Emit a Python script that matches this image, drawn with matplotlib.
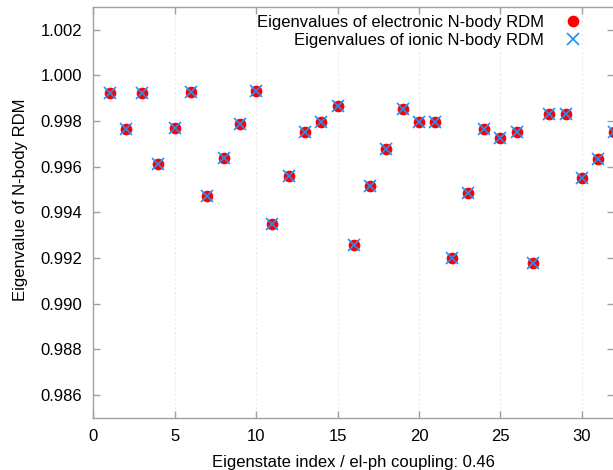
import numpy as np
import matplotlib
matplotlib.use("Agg")
import matplotlib.pyplot as plt

plt.rcParams['font.family'] = ['Liberation Sans', 'DejaVu Sans']

# eigenstate index
indices = np.arange(1, 33)

# eigenvalues
electronic = [0.99924, 0.99765, 0.99924, 0.99613, 0.99771, 0.99928, 0.99470, 0.99640,
              0.99788, 0.99931, 0.99349, 0.99558, 0.99750, 0.99796, 0.99865, 0.99258,
              0.99516, 0.99679, 0.99853, 0.99794, 0.99794, 0.99200, 0.99483, 0.99765,
              0.99725, 0.99750, 0.99177, 0.99831, 0.99831, 0.99552, 0.99632, 0.99750]
ionic = list(electronic)

xticks = [0, 5, 10, 15, 20, 25, 30]
yticks = [0.986, 0.988, 0.990, 0.992, 0.994, 0.996, 0.998, 1.000, 1.002]

fig = plt.figure(figsize=(6.13, 4.70), dpi=100)
ax = fig.add_axes([0.1522, 0.1106, 0.850, 0.875])

ax.plot(indices, electronic, 'o', color='#ff0000', markersize=7.4, linestyle='none',
        label='Eigenvalues of electronic N-body RDM')
ax.plot(indices, ionic, 'x', color='#1e90ff', markersize=8.5, markeredgewidth=1.2,
        linestyle='none', label='Eigenvalues of ionic N-body RDM')

ax.set_xlim(0, 32)
ax.set_ylim(0.985, 1.003)
ax.set_xticks(xticks)
ax.set_yticks(yticks)
ax.set_yticklabels([f"{v:.3f}" for v in yticks])

ax.grid(axis='x', color='#ebebeb', linestyle=(0, (2, 2)), linewidth=0.8)
ax.set_axisbelow(True)

for s in ax.spines.values():
    s.set_color('#a0a0a0')
    s.set_linewidth(1.0)
ax.tick_params(direction='in', length=5, width=1, color='#a0a0a0',
               labelsize=12, top=True, right=True, pad=8)

ax.set_xlabel('Eigenstate index / el-ph coupling: 0.46', fontsize=12, labelpad=8)
ax.set_ylabel('Eigenvalue of N-body RDM', fontsize=12)
ax.yaxis.set_label_coords(-0.125, 0.53)

ax.legend(loc='upper right', bbox_to_anchor=(0.955, 1.005), frameon=False,
          markerfirst=False, fontsize=12, handletextpad=1.2, labelspacing=0.2,
          borderaxespad=0.2, handlelength=1.0)

fig.savefig('out.png', dpi=100)
